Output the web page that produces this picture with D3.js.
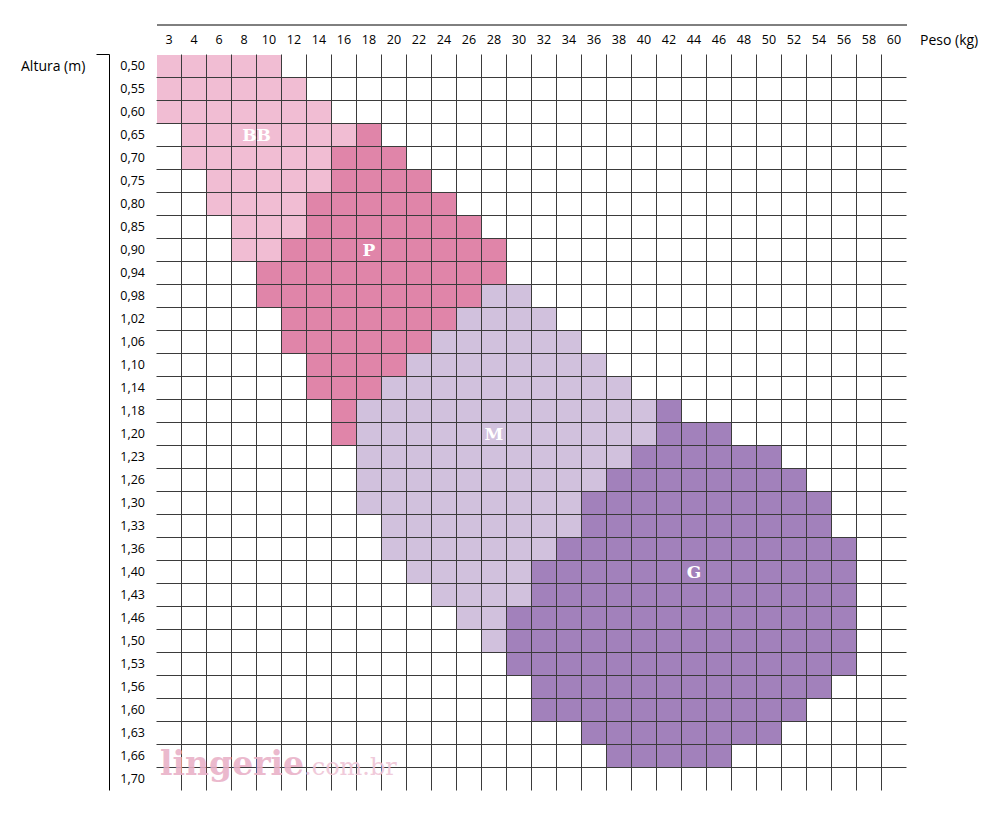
<!DOCTYPE html>
<html>
<head>
<meta charset="utf-8">
<script src="https://cdn.jsdelivr.net/npm/d3@7"></script>
<style>
  html, body { margin: 0; padding: 0; background: #fff; }
  svg { display: block; }
</style>
</head>
<body>
<svg id="chart" width="1002" height="829"></svg>
<script>
// ---- data ----
const weights = [3, 4, 6, 8, 10, 12, 14, 16, 18, 20, 22, 24, 26, 28, 30, 32, 34, 36, 38, 40, 42, 44, 46, 48, 50, 52, 54, 56, 58, 60];
const heights = ["0,50", "0,55", "0,60", "0,65", "0,70", "0,75", "0,80", "0,85", "0,90", "0,94", "0,98", "1,02", "1,06", "1,10", "1,14", "1,18", "1,20", "1,23", "1,26", "1,30", "1,33", "1,36", "1,40", "1,43", "1,46", "1,50", "1,53", "1,56", "1,60", "1,63", "1,66", "1,70"];

// [height, from weight, to weight]
const sizeBB = [
  ["0,50", 3, 10], ["0,55", 3, 12], ["0,60", 3, 14], ["0,65", 4, 16], ["0,70", 4, 14],
  ["0,75", 6, 14], ["0,80", 6, 12], ["0,85", 8, 12], ["0,90", 8, 10]
];
const sizeP = [
  ["0,65", 18, 18], ["0,70", 16, 20], ["0,75", 16, 22], ["0,80", 14, 24], ["0,85", 14, 26],
  ["0,90", 12, 28], ["0,94", 10, 28], ["0,98", 10, 26], ["1,02", 12, 24], ["1,06", 12, 22],
  ["1,10", 14, 20], ["1,14", 14, 18], ["1,18", 16, 16], ["1,20", 16, 16]
];
const sizeM = [
  ["0,98", 28, 30], ["1,02", 26, 32], ["1,06", 24, 34], ["1,10", 22, 36], ["1,14", 20, 38],
  ["1,18", 18, 40], ["1,20", 18, 40], ["1,23", 18, 38], ["1,26", 18, 36], ["1,30", 18, 34],
  ["1,33", 20, 34], ["1,36", 20, 32], ["1,40", 22, 30], ["1,43", 24, 30], ["1,46", 26, 28],
  ["1,50", 28, 28]
];
const sizeG = [
  ["1,18", 42, 42], ["1,20", 42, 46], ["1,23", 40, 50], ["1,26", 38, 52], ["1,30", 36, 54],
  ["1,33", 36, 54], ["1,36", 34, 56], ["1,40", 32, 56], ["1,43", 32, 56], ["1,46", 30, 56],
  ["1,50", 30, 56], ["1,53", 30, 56], ["1,56", 32, 54], ["1,60", 32, 52], ["1,63", 36, 50],
  ["1,66", 38, 46]
];
const sizeNames = ["BB", "P", "M", "G"];
const sizeRanges = [sizeBB, sizeP, sizeM, sizeG];
const sizeColors = ["#f1bdd3", "#e085a9", "#d1c1dd", "#a281bb"];
// label: [name, weight span, height]
const sizeLabels = [["BB", [8, 10], "0,65"], ["P", [18, 18], "0,90"], ["M", [28, 28], "1,20"], ["G", [44, 44], "1,40"]];

// ---- layout ----
const svg = d3.select("#chart");
const x = d3.scaleBand().domain(weights).range([156.5, 906.5]);
const y = d3.scaleBand().domain(heights).range([54.5, 790.5]);
const color = d3.scaleOrdinal().domain(sizeNames).range(sizeColors);
const font = "'Open Sans', 'DejaVu Sans', sans-serif";

// cells
const cells = [];
sizeRanges.forEach((rows, si) => {
  rows.forEach(([h, w0, w1]) => {
    const i0 = weights.indexOf(w0), i1 = weights.indexOf(w1);
    for (let i = i0; i <= i1; i++) cells.push({ size: sizeNames[si], h, w: weights[i] });
  });
});
svg.append("g").selectAll("rect").data(cells).join("rect")
  .attr("x", d => x(d.w)).attr("y", d => y(d.h))
  .attr("width", x.bandwidth()).attr("height", y.bandwidth())
  .attr("fill", d => color(d.size))
  .attr("shape-rendering", "crispEdges");

// grid lines
const grid = svg.append("g").attr("stroke", "#3b3b3b").attr("stroke-width", 1);
grid.selectAll(".v").data(weights.slice(1)).join("line")
  .attr("x1", d => x(d)).attr("x2", d => x(d))
  .attr("y1", y.range()[0]).attr("y2", y.range()[1]);
grid.selectAll(".h").data(heights.slice(1)).join("line")
  .attr("y1", d => y(d)).attr("y2", d => y(d))
  .attr("x1", x.range()[0]).attr("x2", x.range()[1]);

// top axis (weights)
const xAxis = svg.append("g").attr("transform", "translate(0,24.5)")
  .call(d3.axisBottom(x).tickSize(0).tickSizeOuter(0).tickPadding(11));
xAxis.select(".domain").attr("stroke", "#000");
xAxis.selectAll("text").attr("font-family", font).attr("font-size", 12.5).attr("fill", "#000");

svg.append("text").attr("x", 920).attr("y", 45).text("Peso (kg)")
  .attr("font-family", font).attr("font-size", 14).attr("fill", "#000");

// left axis (heights)
const yAxis = svg.append("g").attr("transform", "translate(147,0)")
  .call(d3.axisLeft(y).tickSize(0).tickPadding(2));
yAxis.select(".domain").remove();
yAxis.selectAll("text").attr("font-family", font).attr("font-size", 12.5).attr("fill", "#000");

// bracket
const y0 = y.range()[0], y1 = y.range()[1];
svg.append("path").attr("d", `M96.5,${y0}H109.5V${y1}`).attr("fill", "none").attr("stroke", "#000");

svg.append("text").attr("x", 21).attr("y", y("0,50") + y.bandwidth() / 2).attr("dy", "0.35em")
  .text("Altura (m)").attr("font-family", font).attr("font-size", 14).attr("fill", "#000");

// size labels
svg.append("g").selectAll("text").data(sizeLabels).join("text")
  .attr("x", d => (x(d[1][0]) + x(d[1][1])) / 2 + x.bandwidth() / 2)
  .attr("y", d => y(d[2]) + y.bandwidth() / 2)
  .attr("dy", "0.36em")
  .attr("text-anchor", "middle")
  .attr("font-family", "'DejaVu Serif', serif").attr("font-weight", "bold").attr("font-size", 17)
  .attr("fill", "#fff")
  .text(d => d[0]);

// watermark
const wm = svg.append("text").attr("x", 160).attr("y", 775)
  .attr("font-family", "'DejaVu Serif', serif").attr("opacity", 0.88);
wm.append("tspan").text("lingerie").attr("font-weight", "bold").attr("font-size", 33).attr("fill", "#e9b0c7");
wm.append("tspan").text(".com.br").attr("font-size", 24).attr("fill", "#efc3d5");
</script>
</body>
</html>
